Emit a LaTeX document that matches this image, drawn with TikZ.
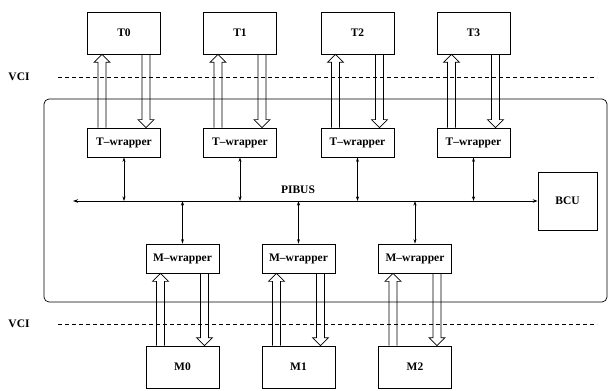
\documentclass[tikz,border=0pt]{standalone}
\usepackage{fontspec}
\setmainfont{Liberation Serif}
\usetikzlibrary{arrows.meta,calc}
\tikzset{
  box/.style={draw, line width=0.7pt, minimum width=73pt, inner sep=0pt,
    font=\bfseries\fontsize{11.5}{13}\selectfont},
  tbox/.style={box, minimum height=42pt},
  wbox/.style={box, minimum height=29pt},
  lbl/.style={font=\bfseries\fontsize{11.5}{13}\selectfont, inner sep=0pt},
  hollow/.style={draw, line width=0.7pt, line join=miter},
  busline/.style={line width=1pt, {Stealth[length=5pt,width=3.5pt]}-{Stealth[length=5pt,width=3.5pt]}},
  link/.style={line width=0.8pt, {Stealth[length=4.5pt,width=3pt]}-{Stealth[length=4.5pt,width=3pt]}},
  vci/.style={dashed, line width=0.7pt, dash pattern=on 4pt off 3pt}
}
\newcommand\hollowup[2]{%
  \draw[hollow] let \p1=(#1), \p2=(#2) in
    (\x1-4pt,\y1) -- (\x1-4pt,\y2-8pt) -- (\x1-8pt,\y2-8pt) -- (\x1,\y2)
    -- (\x1+8pt,\y2-8pt) -- (\x1+4pt,\y2-8pt) -- (\x1+4pt,\y1);}
\newcommand\hollowdown[2]{%
  \draw[hollow] let \p1=(#1), \p2=(#2) in
    (\x1-4pt,\y1) -- (\x1-4pt,\y2+8pt) -- (\x1-8pt,\y2+8pt) -- (\x1,\y2)
    -- (\x1+8pt,\y2+8pt) -- (\x1+4pt,\y2+8pt) -- (\x1+4pt,\y1);}
\begin{document}
\begin{tikzpicture}[x=1pt,y=-1pt]
\useasboundingbox (0,0) rectangle (609,390);
% frame
\draw[line width=0.7pt, rounded corners=5pt] (44,99) rectangle (607,302);
% VCI lines
\node[lbl] (vci1) at (19,77) {VCI};
\node[lbl] (vci2) at (19,324) {VCI};
\coordinate (v1a) at (58,77); \coordinate (v1b) at (597,77);
\coordinate (v2a) at (58,324); \coordinate (v2b) at (597,324);
\draw[vci] (v1a) -- (v1b);
\draw[vci] (v2a) -- (v2b);
% targets
\foreach \i/\x in {0/124,1/240,2/357.5,3/473.5}{
  \node[tbox] (T\i) at (\x,33) {T\i};
  \node[wbox] (TW\i) at (\x,142.5) {T--wrapper};
}
% memories
\foreach \i/\x in {0/182.5,1/298.5,2/415}{
  \node[wbox] (MW\i) at (\x,258.5) {M--wrapper};
  \node[tbox] (M\i) at (\x,367) {M\i};
}
% BCU and bus
\node[box, minimum width=59pt, minimum height=58pt] (BCU) at (567.5,201) {BCU};
\coordinate (busL) at (73,201);
\draw[busline] (busL) -- (BCU.west);
\node[lbl] (pibus) at (298,190) {PIBUS};
% links to bus
\foreach \i in {0,1,2,3}{
  \draw[link] (TW\i.south) -- (TW\i.south |- BCU.west);
}
\foreach \i in {0,1,2}{
  \draw[link] (MW\i.north |- BCU.west) -- (MW\i.north);
}
% hollow arrows (targets)
\foreach \i in {0,1,2,3}{
  \hollowup{[xshift=-22pt]TW\i.north}{[xshift=-22pt]T\i.south}
  \hollowdown{[xshift=22pt]T\i.south}{[xshift=22pt]TW\i.north}
}
% hollow arrows (memories)
\foreach \i in {0,1,2}{
  \hollowup{[xshift=-22pt]M\i.north}{[xshift=-22pt]MW\i.south}
  \hollowdown{[xshift=22pt]MW\i.south}{[xshift=22pt]M\i.north}
}
\end{tikzpicture}
\end{document}
